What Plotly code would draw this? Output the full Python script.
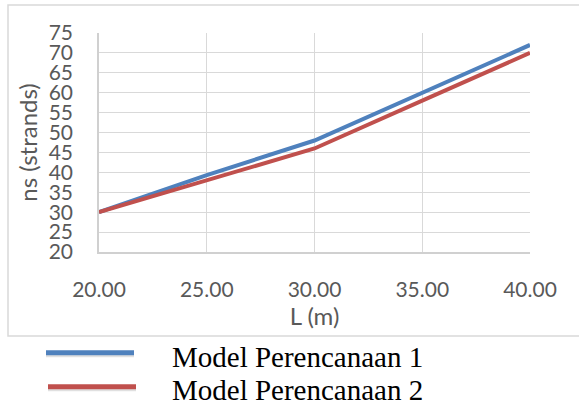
import plotly.graph_objects as go

L_m = [20, 25, 30, 35, 40]
model1 = [30, 39.3, 48, 60, 72]
model2 = [30, 38, 46, 58, 70]
series_names = ["Model Perencanaan 1", "Model Perencanaan 2"]
series_colors = ["#4f81bd", "#c0504d"]
x_ticks = [20, 25, 30, 35, 40]
x_ticklabels = ["20.00", "25.00", "30.00", "35.00", "40.00"]
y_ticks = list(range(20, 80, 5))

W, H = 579, 401
ml, mr, mt, mb = 99, 49, 33, 149
pw, ph = W - ml - mr, H - mt - mb

def px_x(p):
    return (p - ml) / pw

def px_y(p):
    return (H - mb - p) / ph

fig = go.Figure()
for yv, nm, col in zip([model1, model2], series_names, series_colors):
    fig.add_trace(go.Scatter(x=L_m, y=yv, mode="lines", name=nm,
                             line=dict(color=col, width=4)))

tickfont = dict(family="Lato", size=21, color="#595959")
titlefont = dict(family="Lato", size=24, color="#595959")

fig.update_xaxes(range=[20, 40], tickvals=x_ticks, ticktext=x_ticklabels,
                 showgrid=True, gridcolor="#d9d9d9", gridwidth=1,
                 showline=True, linecolor="#d0d0d0", linewidth=1.5,
                 zeroline=False, tickfont=tickfont, ticks="",
                 ticklabelstandoff=18,
                 title=dict(text="L (m)", font=titlefont, standoff=6))
fig.update_yaxes(range=[20, 75], tickvals=y_ticks,
                 showgrid=True, gridcolor="#d9d9d9", gridwidth=1,
                 showline=True, linecolor="#d0d0d0", linewidth=1.5,
                 zeroline=False, tickfont=tickfont, ticks="",
                 ticklabelstandoff=20,
                 title=dict(text="ns (strands)", font=titlefont, standoff=4))

fig.add_shape(type="rect", xref="paper", yref="paper",
              x0=px_x(8), x1=px_x(590), y0=px_y(336), y1=px_y(5),
              line=dict(color="#d9d9d9", width=1.5), layer="below")

# manual legend below the chart box
leg_rows = [(46, 134, 352.7, 357), (48, 136, 386.7, 390)]
for (x0, x1, ly, ty), nm, col in zip(leg_rows, series_names, series_colors):
    fig.add_shape(type="line", xref="paper", yref="paper",
                  x0=px_x(x0), x1=px_x(x1), y0=px_y(ly + 2.5), y1=px_y(ly + 2.5),
                  line=dict(color="rgba(0,0,0,0.12)", width=4))
    fig.add_shape(type="line", xref="paper", yref="paper",
                  x0=px_x(x0), x1=px_x(x1), y0=px_y(ly), y1=px_y(ly),
                  line=dict(color=col, width=5))
    fig.add_annotation(text=nm, xref="paper", yref="paper",
                       x=px_x(170), y=px_y(ty), xanchor="left", yanchor="middle",
                       showarrow=False,
                       font=dict(family="Liberation Serif", size=29, color="#000000"))

fig.update_layout(
    width=W, height=H,
    margin=dict(l=ml, r=mr, t=mt, b=mb, autoexpand=False),
    paper_bgcolor="white", plot_bgcolor="white",
    showlegend=False,
)

fig.write_html("out.html")
